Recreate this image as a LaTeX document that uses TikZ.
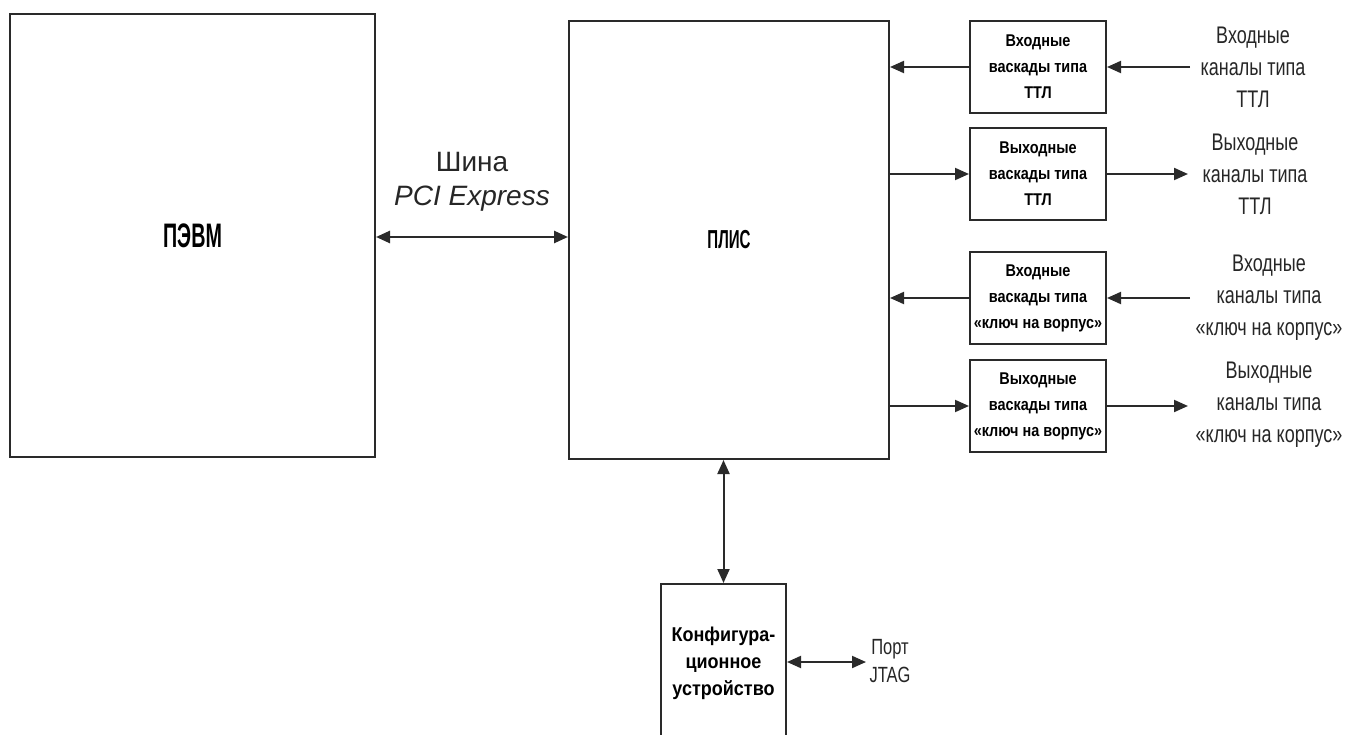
\documentclass[tikz,border=0pt]{standalone}
\usepackage{fontspec}
\setmainfont{Liberation Sans}
\newfontfamily\nrw[FakeStretch=0.75]{Liberation Sans}
\newfontfamily\mnrw[FakeStretch=0.85]{Liberation Sans}
\newfontfamily\cnrw[FakeStretch=0.9]{Liberation Sans}
\newfontfamily\vnrw[FakeStretch=0.58]{Liberation Sans}
\usetikzlibrary{arrows.meta}
\definecolor{linec}{HTML}{2A2A2A}
\definecolor{txtc}{HTML}{262626}
\tikzset{
  box/.style={draw=linec, line width=2pt, fill=white, inner sep=0pt, align=center},
  casc/.style={box, minimum width=136, minimum height=92, font=\mnrw\bfseries\fontsize{17}{26}\selectfont},
  lbl/.style={align=center, text=txtc, inner sep=0pt, font=\nrw\fontsize{24}{32}\selectfont},
  conn/.style={draw=linec, line width=2pt, -{Triangle[length=14pt,width=12pt]}},
  biconn/.style={draw=linec, line width=2pt, {Triangle[length=14pt,width=12pt]}-{Triangle[length=14pt,width=12pt]}}
}
\begin{document}
\begin{tikzpicture}[x=1pt,y=-1pt]
\useasboundingbox (0,0) rectangle (1349,735);
% main boxes
\node[box, minimum width=365, minimum height=443, font=\vnrw\bfseries\fontsize{34}{40}\selectfont] (pc) at (192.5,235.5) {ПЭВМ};
\node[box, minimum width=320, minimum height=438, font=\vnrw\bfseries\fontsize{26}{30}\selectfont] (plis) at (729,240) {ПЛИС};
% cascade boxes
\node[casc] (c1) at (1038,67)  {Входные\\васкады типа\\ТТЛ};
\node[casc] (c2) at (1038,174) {Выходные\\васкады типа\\ТТЛ};
\node[casc] (c3) at (1038,298) {Входные\\васкады типа\\«ключ на ворпус»};
\node[casc] (c4) at (1038,406) {Выходные\\васкады типа\\«ключ на ворпус»};
% configuration device
\node[box, minimum width=125, minimum height=170] (conf) at (723.5,669) {};
\node[align=center, inner sep=0pt, font=\cnrw\bfseries\fontsize{20}{27}\selectfont] (conft) at (723.5,663) {Конфигура-\\ционное\\устройство};
% bus label
\node[inner sep=0pt, text=txtc, font=\fontsize{28}{30}\selectfont] (shina) at (472,162) {Шина};
\node[inner sep=0pt, text=txtc, font=\itshape\fontsize{28}{30}\selectfont] (pcie) at (472,199) {PCI Express};
% right labels
\node[lbl] (l1) at (1253,67)  {Входные\\каналы типа\\ТТЛ};
\node[lbl] (l2) at (1255,174) {Выходные\\каналы типа\\ТТЛ};
\node[lbl] (l3) at (1269,298) {Входные\\каналы типа\\«ключ на корпус»};
\node[lbl] (l4) at (1269,405) {Выходные\\каналы типа\\«ключ на корпус»};
\node[lbl, font=\nrw\fontsize{22}{28}\selectfont] (jtag) at (890,661) {Порт\\JTAG};
% free ends
\coordinate (e1) at (1190,67);
\coordinate (e2) at (1188,174);
\coordinate (e3) at (1190,298);
\coordinate (e4) at (1188,406);
\coordinate (ej) at (866,662);
\coordinate (ybus) at (0,237);
\coordinate (yj) at (0,662);
% connectors
\draw[biconn, line width=2.5pt] (pc.east |- ybus) -- (plis.west |- ybus);
\draw[conn] (c1.west) -- (plis.east |- c1.west);
\draw[conn] (e1) -- (c1.east);
\draw[conn] (plis.east |- c2.west) -- (c2.west);
\draw[conn] (c2.east) -- (e2);
\draw[conn] (c3.west) -- (plis.east |- c3.west);
\draw[conn] (e3) -- (c3.east);
\draw[conn] (plis.east |- c4.west) -- (c4.west);
\draw[conn] (c4.east) -- (e4);
\draw[biconn] (conf.north |- plis.south) -- (conf.north);
\draw[biconn] (conf.east |- yj) -- (ej);
\end{tikzpicture}
\end{document}
